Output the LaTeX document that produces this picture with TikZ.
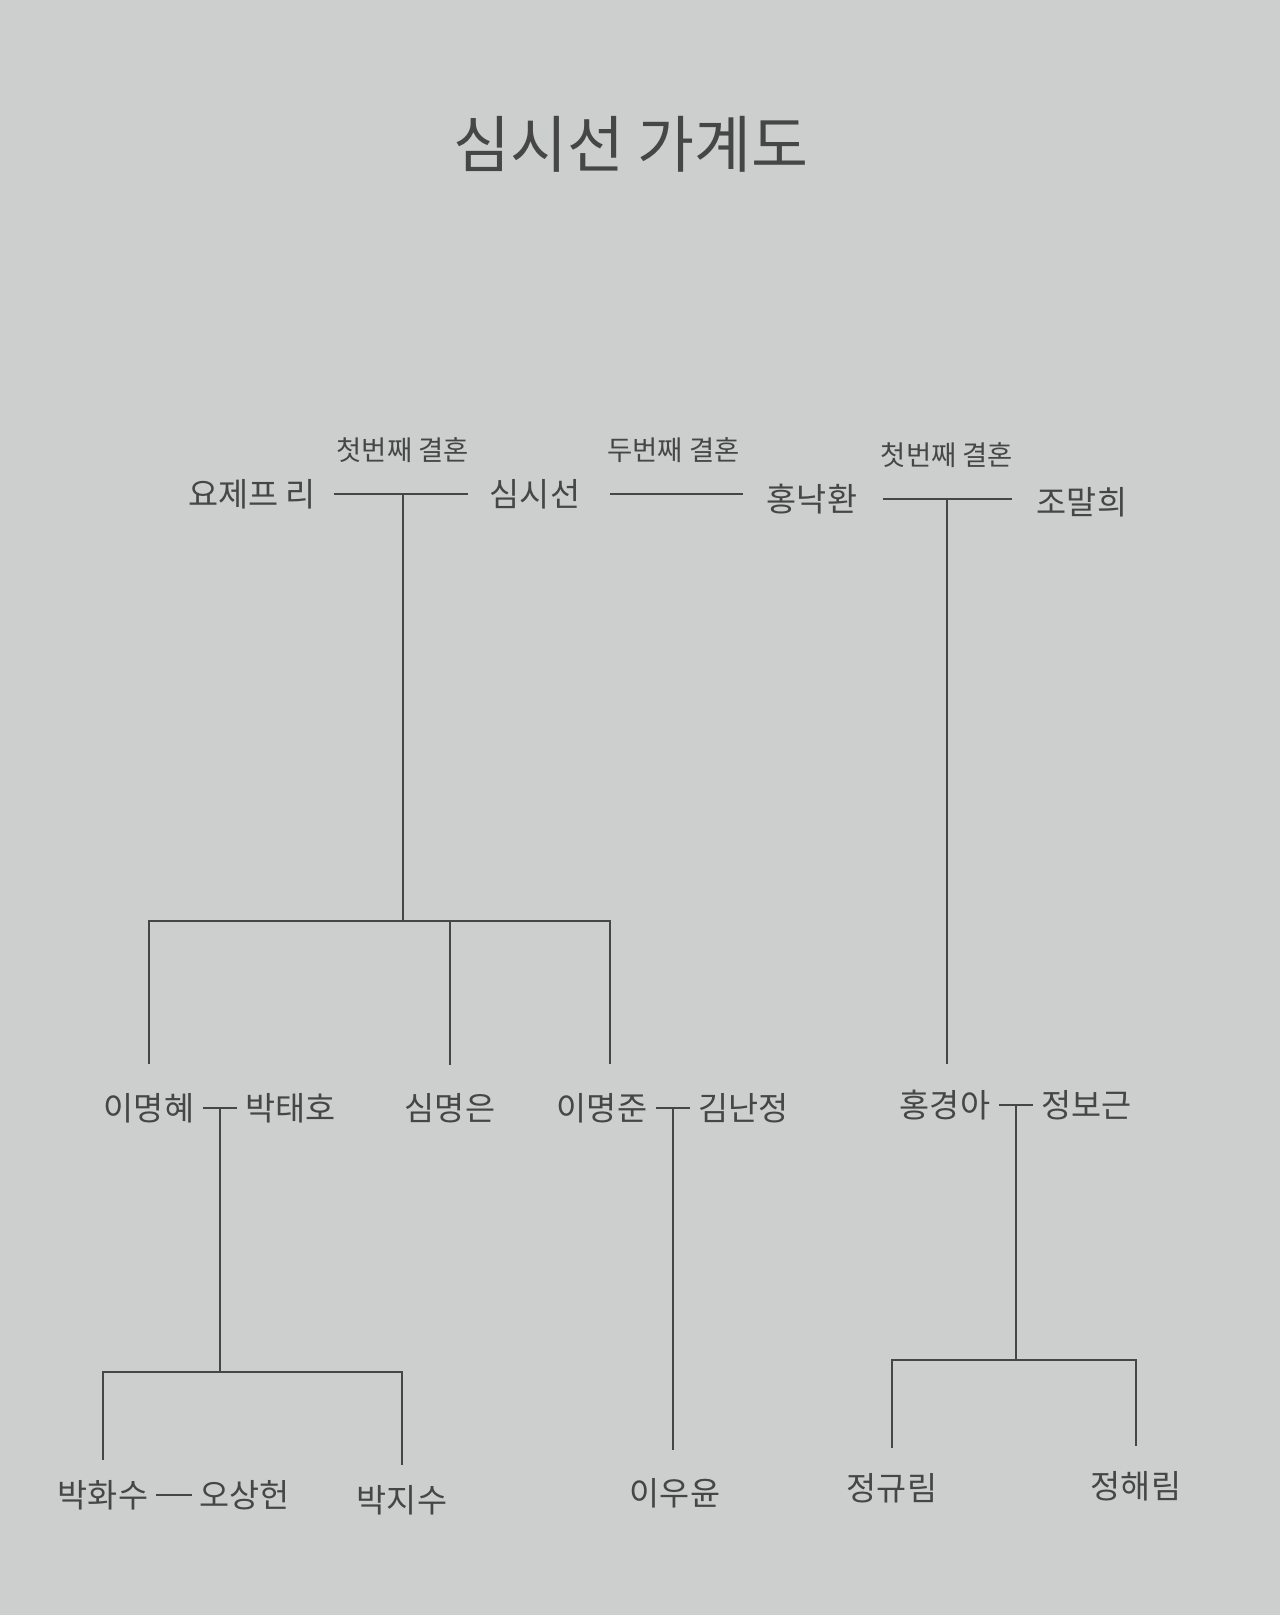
\documentclass[tikz,border=0pt]{standalone}
\usepackage{fontspec}
\setmainfont{Noto Sans CJK KR}
\usetikzlibrary{positioning, calc}
\definecolor{paper}{RGB}{204,207,206}
\definecolor{ink}{RGB}{70,70,70}

\begin{document}
\begin{tikzpicture}[x=0.01cm, y=-0.01cm, node distance=0.5cm,
	person/.style={inner sep=0pt, text=ink, font=\fontsize{9.3}{11}\selectfont},
	wedding/.style={inner sep=0pt, text=ink, font=\fontsize{7.8}{9}\selectfont},
	tie/.style={draw=ink, line width=0.5pt}]
	\fill[paper] (0,0) rectangle (1280,1615);
	\node[text=ink, font=\fontsize{17.6}{21}\selectfont] (title) at (631,144) {심시선 가계도};

	% first generation
	\node[person] (joseph) at (252,494) {요제프 리};
	\node[person] (sisun) at (535,494) {심시선};
	\node[person] (nakhwan) at (812,499) {홍낙환};
	\node[person] (malhee) at (1082,502) {조말희};

	% second generation
	\node[person] (myeonghye) at (149,1108) {이명혜};
	\node[person, right=of myeonghye] (taeho) {박태호};
	\node[person] (myeongeun) at (450,1108) {심명은};
	\node[person] (myeongjun) at (602,1108) {이명준};
	\node[person, right=of myeongjun] (nanjeong) {김난정};
	\node[person] (gyeonga) at (945,1105) {홍경아};
	\node[person, right=of gyeonga] (bogeun) {정보근};

	% third generation
	\node[person] (hwasu) at (103,1495) {박화수};
	\node[person, right=of hwasu] (sangheon) {오상헌};
	\node[person] (jisu) at (402,1500) {박지수};
	\node[person] (uyun) at (675,1493) {이우윤};
	\node[person] (gyurim) at (892,1488) {정규림};
	\node[person] (haerim) at (1136,1486) {정해림};

	\coordinate (bar1) at (0,921);
	\coordinate (bar2) at (0,1372);
	\coordinate (bar3) at (0,1360);

	% marriages
	\draw[tie, shorten <=0.17cm, shorten >=0.21cm] (joseph.east) -- node[wedding, above=0.30cm] (wed1) {첫번째 결혼} coordinate[pos=0.5] (m1) (sisun.west |- joseph.east);
	\draw[tie, shorten <=0.29cm, shorten >=0.23cm] (sisun.east) -- node[wedding, above=0.30cm] (wed2) {두번째 결혼} (nakhwan.west |- sisun.east);
	\draw[tie, shorten <=0.25cm, shorten >=0.24cm] (nakhwan.east) -- node[wedding, above=0.30cm] (wed3) {첫번째 결혼} coordinate[pos=0.5] (m3) (malhee.west |- nakhwan.east);

	% children of 심시선
	\draw[tie] (m1) -- (m1 |- bar1);
	\draw[tie, shorten <=0.28cm, shorten >=0.28cm] (myeonghye.north) |- (m1 |- bar1) -| ([xshift=0.08cm]myeongjun.north);
	\draw[tie, shorten <=0.28cm] (myeongeun.north) -- (myeongeun |- bar1);
	\draw[tie, shorten >=0.25cm] (m3) -- (m3 |- gyeonga.north);

	% second generation couples
	\draw[tie, shorten <=0.08cm, shorten >=0.08cm] (myeonghye) -- coordinate[pos=0.5] (t1) (taeho);
	\draw[tie] (t1) -- (t1 |- bar2);
	\draw[tie, shorten <=0.2cm, shorten >=0.2cm] (hwasu.north) |- (t1 |- bar2) -| (jisu.north);

	\draw[tie, shorten <=0.08cm, shorten >=0.08cm] (myeongjun) -- coordinate[pos=0.5] (t2) (nanjeong);
	\draw[tie, shorten >=0.27cm] (t2) -- (t2 |- uyun.north);

	\draw[tie, shorten <=0.08cm, shorten >=0.08cm] (gyeonga) -- coordinate[pos=0.5] (t3) (bogeun);
	\draw[tie] (t3) -- (t3 |- bar3);
	\draw[tie, shorten <=0.25cm, shorten >=0.25cm] (gyurim.north) |- (t3 |- bar3) -| (haerim.north);

	\draw[tie, shorten <=0.07cm, shorten >=0.07cm] (hwasu) -- (sangheon);
\end{tikzpicture}
\end{document}
